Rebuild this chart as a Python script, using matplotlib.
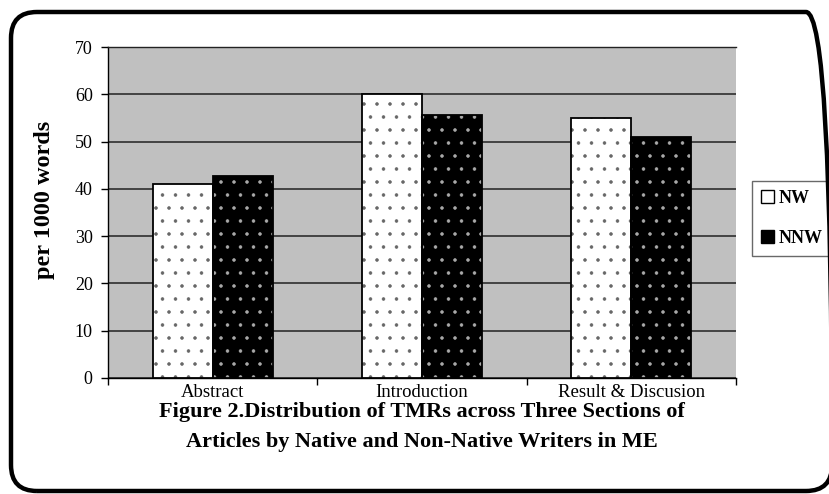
import numpy as np
import matplotlib
matplotlib.use('Agg')
import matplotlib.pyplot as plt
from matplotlib.patches import FancyBboxPatch, Patch
from matplotlib.transforms import IdentityTransform

# data
sections = ['Abstract', 'Introduction', 'Result & Discusion']
nw = [41, 60, 55]
nnw = [42.7, 55.7, 51]
series = ['NW', 'NNW']
yticks = [0, 10, 20, 30, 40, 50, 60, 70]
title = ('Figure 2.Distribution of TMRs across Three Sections of\n'
         'Articles by Native and Non-Native Writers in ME')

# dpi 78 makes the '.' hatch spacing ~13 px like the reference;
# S rescales point sizes so they look as they would at 100 dpi
DPI = 78
S = 100 / DPI
W, H = 829, 494

plt.rcParams['font.family'] = ['Liberation Serif', 'DejaVu Serif']
plt.rcParams['hatch.linewidth'] = 0.8

fig = plt.figure(figsize=(W / DPI, H / DPI), dpi=DPI)
ax = fig.add_axes([108/W, 1-378/H, (736-108)/W, (378-47)/H])
ax.set_facecolor('#c0c0c0')

x = np.arange(len(sections))
w = 0.287
styles = [('white', '#666666'), ('black', '#aaaaaa')]
for i, (vals, (fc, hc)) in enumerate(zip([nw, nnw], styles)):
    pos = x + (i - 0.5) * w
    # hatch dots drawn with edge colour, then outline on top
    ax.bar(pos, vals, w, color=fc, edgecolor=hc, hatch='.', linewidth=0, zorder=3)
    ax.bar(pos, vals, w, facecolor='none', edgecolor='black', linewidth=1.3*S, zorder=4)

ax.set_xlim(-0.5, 2.5)
ax.set_ylim(0, 70)
ax.set_yticks(yticks)
ax.set_yticklabels([str(t) for t in yticks], fontsize=13*S)
ax.set_xticks([-0.5, 0.5, 1.5, 2.5])
ax.set_xticklabels([])
ax.set_xticks(x, minor=True)
ax.set_xticklabels(sections, minor=True, fontsize=13.5*S)
ax.tick_params(axis='x', which='minor', length=0, pad=4*S)
ax.tick_params(axis='x', which='major', length=5*S, width=S, direction='out')
ax.tick_params(axis='y', length=5*S, width=S, direction='out', pad=6*S)
ax.grid(axis='y', color='#222222', linewidth=1.1*S, zorder=1)
ax.set_axisbelow(True)
ax.spines['right'].set_visible(False)
ax.spines['top'].set_color('#222222')
for s in ['top', 'left', 'bottom']:
    ax.spines[s].set_linewidth(1.0*S)

fig.text(45/W, 1 - 200/H, 'per 1000 words', rotation=90, ha='center', va='center',
         fontsize=17.5*S, fontweight='bold')

fig.text(0.5 * (108 + 736) / W, 1 - 427/H, title, ha='center', va='center',
         fontsize=16*S, fontweight='bold', linespacing=1.6)

handles = [Patch(facecolor='white', edgecolor='black', linewidth=S),
           Patch(facecolor='black', edgecolor='black', linewidth=S)]
leg = fig.legend(handles, series, loc='upper left', bbox_to_anchor=(752/W, 1-181/H),
                 prop={'weight': 'bold', 'size': 13*S}, frameon=True, fancybox=False,
                 handlelength=0.7, handleheight=0.7, handletextpad=0.3,
                 labelspacing=1.25, borderpad=0.5, borderaxespad=0)
leg.get_frame().set_edgecolor('#444444')
leg.get_frame().set_linewidth(1.0*S)

# rounded outer frame, in pixels
frame = FancyBboxPatch((11, H-491), 832-11, 491-12,
                       boxstyle='round,pad=0,rounding_size=26',
                       transform=IdentityTransform(), facecolor='none',
                       edgecolor='black', linewidth=3.2*S, zorder=10)
fig.patches.append(frame)

fig.savefig('out.png', dpi=DPI)
